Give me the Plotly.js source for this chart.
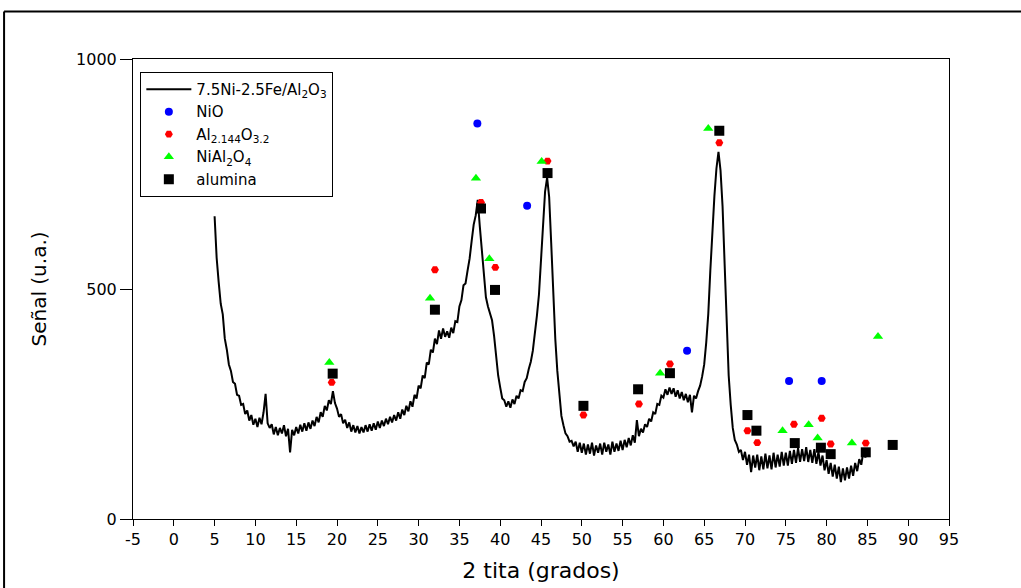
<!DOCTYPE html>
<html>
<head>
<meta charset="utf-8">
<script src="https://cdn.plot.ly/plotly-3.0.1.min.js"></script>
<style>
  html, body { margin: 0; padding: 0; background: #ffffff; }
  #chart { width: 1021px; height: 588px; }
</style>
</head>
<body>
<div id="chart"></div>
<script>
// ---- data ----
const twoThetaStart = 5;
const twoThetaStep = 0.25;
const intensity = [
  658, 568, 515, 468, 445, 392, 368, 336, 322, 298,
  294, 270, 268, 248, 250, 228, 236, 214, 226, 205,
  218, 200, 220, 206, 232, 272, 208, 198, 206, 184,
  200, 182, 198, 186, 204, 180, 196, 145, 194, 182,
  200, 186, 205, 190, 208, 192, 210, 196, 214, 202,
  222, 210, 232, 222, 246, 236, 258, 250, 278, 252,
  240, 222, 228, 208, 216, 198, 210, 190, 204, 188,
  202, 186, 200, 188, 204, 190, 206, 192, 208, 194,
  212, 198, 214, 202, 218, 206, 222, 210, 226, 214,
  232, 218, 238, 226, 246, 234, 256, 244, 270, 262,
  290, 284, 312, 306, 340, 336, 368, 362, 392, 380,
  410, 392, 414, 396, 408, 394, 416, 404, 430, 428,
  462, 476, 508, 512, 540, 566, 604, 640, 660, 694,
  636, 585, 520, 482, 462, 446, 432, 398, 348, 312,
  286, 262, 258, 244, 256, 242, 260, 250, 268, 262,
  280, 278, 298, 306, 326, 342, 366, 400, 442, 488,
  568, 640, 712, 742, 700, 600, 480, 392, 322, 262,
  224, 204, 186, 180, 168, 170, 158, 168, 146, 166,
  144, 164, 140, 162, 142, 166, 138, 160, 144, 164,
  140, 166, 146, 162, 140, 168, 146, 164, 148, 170,
  150, 172, 156, 176, 160, 182, 166, 215, 180, 196,
  188, 206, 200, 218, 212, 232, 228, 250, 248, 268,
  264, 282, 270, 286, 272, 284, 266, 280, 262, 276,
  258, 272, 254, 270, 232, 268, 262, 278, 290, 310,
  336, 384, 446, 540, 632, 702, 762, 798, 758, 680,
  556, 420, 312, 248, 198, 172, 162, 146, 150, 128,
  146, 118, 140, 102, 138, 112, 140, 106, 136, 108,
  142, 110, 138, 108, 144, 112, 140, 114, 146, 116,
  144, 116, 148, 120, 150, 122, 154, 124, 152, 126,
  156, 124, 150, 122, 152, 120, 146, 116, 138, 106,
  128, 98, 122, 92, 118, 88, 114, 80, 110, 84,
  112, 88, 116, 94, 122, 104, 130, 118, 146, 134,
  150
];

const nioX = [37.2, 43.3, 62.9, 75.4, 79.4];
const nioY = [860, 681, 366, 300, 300];

const aloX = [19.35, 32.0, 37.65, 39.4, 45.8, 50.2, 57.0, 60.8, 66.85, 70.3, 71.5, 76.0, 79.4, 80.5, 84.8];
const aloY = [297, 542, 688, 547, 778, 226, 250, 337, 818, 192, 166, 206, 219, 163, 165];

const nialX = [19.06, 31.4, 37.03, 38.67, 45.08, 59.6, 65.5, 74.6, 77.8, 78.9, 83.1, 86.3];
const nialY = [340, 480, 741, 566, 777, 317, 849, 192, 205, 176, 165, 397];

const aluminaX = [19.47, 32.0, 37.65, 39.36, 45.8, 50.2, 56.9, 60.8, 66.85, 70.3, 71.4, 76.1, 79.3, 80.5, 84.8, 88.1];
const aluminaY = [316, 455, 675, 498, 752, 246, 282, 317, 844, 226, 192, 165, 155, 141, 145, 161];

const seriesNames = [
  '7.5Ni-2.5Fe/Al<sub>2</sub>O<sub>3</sub>',
  'NiO',
  'Al<sub>2.144</sub>O<sub>3.2</sub>',
  'NiAl<sub>2</sub>O<sub>4</sub>',
  'alumina'
];
const xTickVals = [-5, 0, 5, 10, 15, 20, 25, 30, 35, 40, 45, 50, 55, 60, 65, 70, 75, 80, 85, 90, 95];
const yTickVals = [0, 500, 1000];

// ---- build traces ----
const twoTheta = intensity.map((_, i) => twoThetaStart + i * twoThetaStep);

const traces = [
  { x: twoTheta, y: intensity, type: 'scatter', mode: 'lines', name: seriesNames[0],
    line: { color: '#000000', width: 2 } },
  { x: nioX, y: nioY, type: 'scatter', mode: 'markers', name: seriesNames[1],
    marker: { color: '#0000ff', symbol: 'circle', size: 8 } },
  { x: aloX, y: aloY, type: 'scatter', mode: 'markers', name: seriesNames[2],
    marker: { color: '#ff0000', symbol: 'hexagon2', size: 8 } },
  { x: nialX, y: nialY, type: 'scatter', mode: 'markers', name: seriesNames[3],
    marker: { color: '#00ff00', symbol: 'triangle-up', size: 9 } },
  { x: aluminaX, y: aluminaY, type: 'scatter', mode: 'markers', name: seriesNames[4],
    marker: { color: '#000000', symbol: 'square', size: 10 } }
];

const fontFam = 'DejaVu Sans, Liberation Sans, Arial, sans-serif';

const layout = {
  width: 1021, height: 588,
  margin: { l: 133, r: 72, t: 59, b: 69 },
  paper_bgcolor: '#ffffff', plot_bgcolor: '#ffffff',
  font: { family: fontFam, size: 15, color: '#000000' },
  showlegend: true,
  legend: {
    x: 0.009, y: 0.972, xanchor: 'left', yanchor: 'top',
    bgcolor: '#ffffff', bordercolor: '#000000', borderwidth: 1,
    font: { family: fontFam, size: 15, color: '#000000' },
    itemwidth: 45,
    tracegroupgap: 0
  },
  xaxis: {
    range: [-5, 95], tickvals: xTickVals, ticktext: xTickVals.map(String),
    ticks: 'outside', ticklen: 6, tickwidth: 1, tickcolor: '#000000',
    showline: true, linecolor: '#000000', linewidth: 1, mirror: true,
    showgrid: false, zeroline: false,
    tickfont: { family: fontFam, size: 16, color: '#000000' },
    title: { text: '2 tita (grados)', font: { family: fontFam, size: 22, color: '#000000' }, standoff: 14 }
  },
  yaxis: {
    range: [0, 1000], tickvals: yTickVals, ticktext: yTickVals.map(String),
    ticks: 'outside', ticklen: 12, tickwidth: 1, tickcolor: '#000000',
    showline: true, linecolor: '#000000', linewidth: 1, mirror: true,
    showgrid: false, zeroline: false,
    tickfont: { family: fontFam, size: 16, color: '#000000' },
    title: { text: 'Señal (u.a.)', font: { family: fontFam, size: 20, color: '#000000' }, standoff: 24 }
  },
  shapes: [
    { type: 'line', xref: 'paper', yref: 'paper', x0: -0.158, x1: 1.2, y0: 1.1034, y1: 1.1034,
      line: { color: '#000000', width: 2 } },
    { type: 'line', xref: 'paper', yref: 'paper', x0: -0.158, x1: -0.158, y0: 1.1034, y1: -0.2,
      line: { color: '#000000', width: 2 } }
  ]
};

Plotly.newPlot('chart', traces, layout, { displayModeBar: false, staticPlot: true });
</script>
</body>
</html>
